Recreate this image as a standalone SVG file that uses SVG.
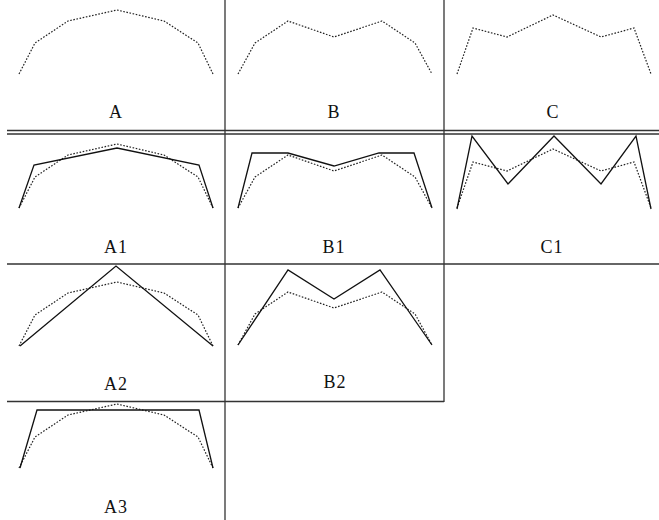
<svg xmlns="http://www.w3.org/2000/svg" width="659" height="520" viewBox="0 0 659 520">
<style>
.grid{stroke:#333;stroke-width:1.3;fill:none}
.dot{stroke:#222;stroke-width:1.2;fill:none;stroke-dasharray:1.6 1.6}
.sol{stroke:#111;stroke-width:1.3;fill:none;stroke-linejoin:miter}
text{font-family:'Liberation Serif','DejaVu Serif',serif;font-size:18px;fill:#111;text-anchor:middle;letter-spacing:1px}
</style>
<rect width="659" height="520" fill="#fff"/>
<g id="connectors">
<line class="grid" x1="225" y1="0" x2="225" y2="520"/>
<line class="grid" x1="444" y1="0" x2="444" y2="402"/>
<line class="grid" x1="7" y1="130.5" x2="659" y2="130.5"/>
<line class="grid" x1="7" y1="134" x2="659" y2="134"/>
<line class="grid" x1="7" y1="264" x2="659" y2="264"/>
<line class="grid" x1="7" y1="401.5" x2="444" y2="401.5"/>
</g>
<g id="A">
<polyline class="dot" points="19,74 35,43 68,21 117,10 164,21 198,43 213,74"/>
<text x="116" y="118" font-family="Liberation Serif, serif">A</text>
</g>
<g id="B">
<polyline class="dot" points="238,74 255,43 288,21 334,37 382,21 415,43 432,74"/>
<text x="334" y="118" font-family="Liberation Serif, serif">B</text>
</g>
<g id="C">
<polyline class="dot" points="457,74 473,28 507,37 553,15 601,37 634,28 651,74"/>
<text x="553" y="118" font-family="Liberation Serif, serif">C</text>
</g>
<g id="A1">
<polyline class="dot" points="19,208 35,177 68,155 117,144 164,155 198,177 213,208"/>
<polyline class="sol" points="19,208 34,165 117,148 199,165 213,208"/>
<text x="116" y="253" font-family="Liberation Serif, serif">A1</text>
</g>
<g id="B1">
<polyline class="dot" points="238,208 255,177 288,155 334,171 382,155 415,177 432,208"/>
<polyline class="sol" points="238,208 252,153 288,153 334,166 379,153 414,153 432,208"/>
<text x="334" y="253" font-family="Liberation Serif, serif">B1</text>
</g>
<g id="C1">
<polyline class="dot" points="457,208 473,162 507,171 553,149 601,171 634,162 651,208"/>
<polyline class="sol" points="457,209 472,136 508,184 554,136 601,184 636,136 651,209"/>
<text x="552" y="253" font-family="Liberation Serif, serif">C1</text>
</g>
<g id="A2">
<polyline class="dot" points="19,346 35,315 68,293 117,282 164,293 198,315 213,346"/>
<polyline class="sol" points="20,346 116,266 213,346"/>
<text x="116" y="390" font-family="Liberation Serif, serif">A2</text>
</g>
<g id="B2">
<polyline class="dot" points="238,345 255,314 288,292 334,308 382,292 415,314 432,345"/>
<polyline class="sol" points="238,345 288,270 334,299 380,270 432,345"/>
<text x="335" y="388" font-family="Liberation Serif, serif">B2</text>
</g>
<g id="A3">
<polyline class="dot" points="19,468 35,437 68,415 117,404 164,415 198,437 213,468"/>
<polyline class="sol" points="20,468 37,410 199,410 213,468"/>
<text x="116" y="513" font-family="Liberation Serif, serif">A3</text>
</g>
</svg>
